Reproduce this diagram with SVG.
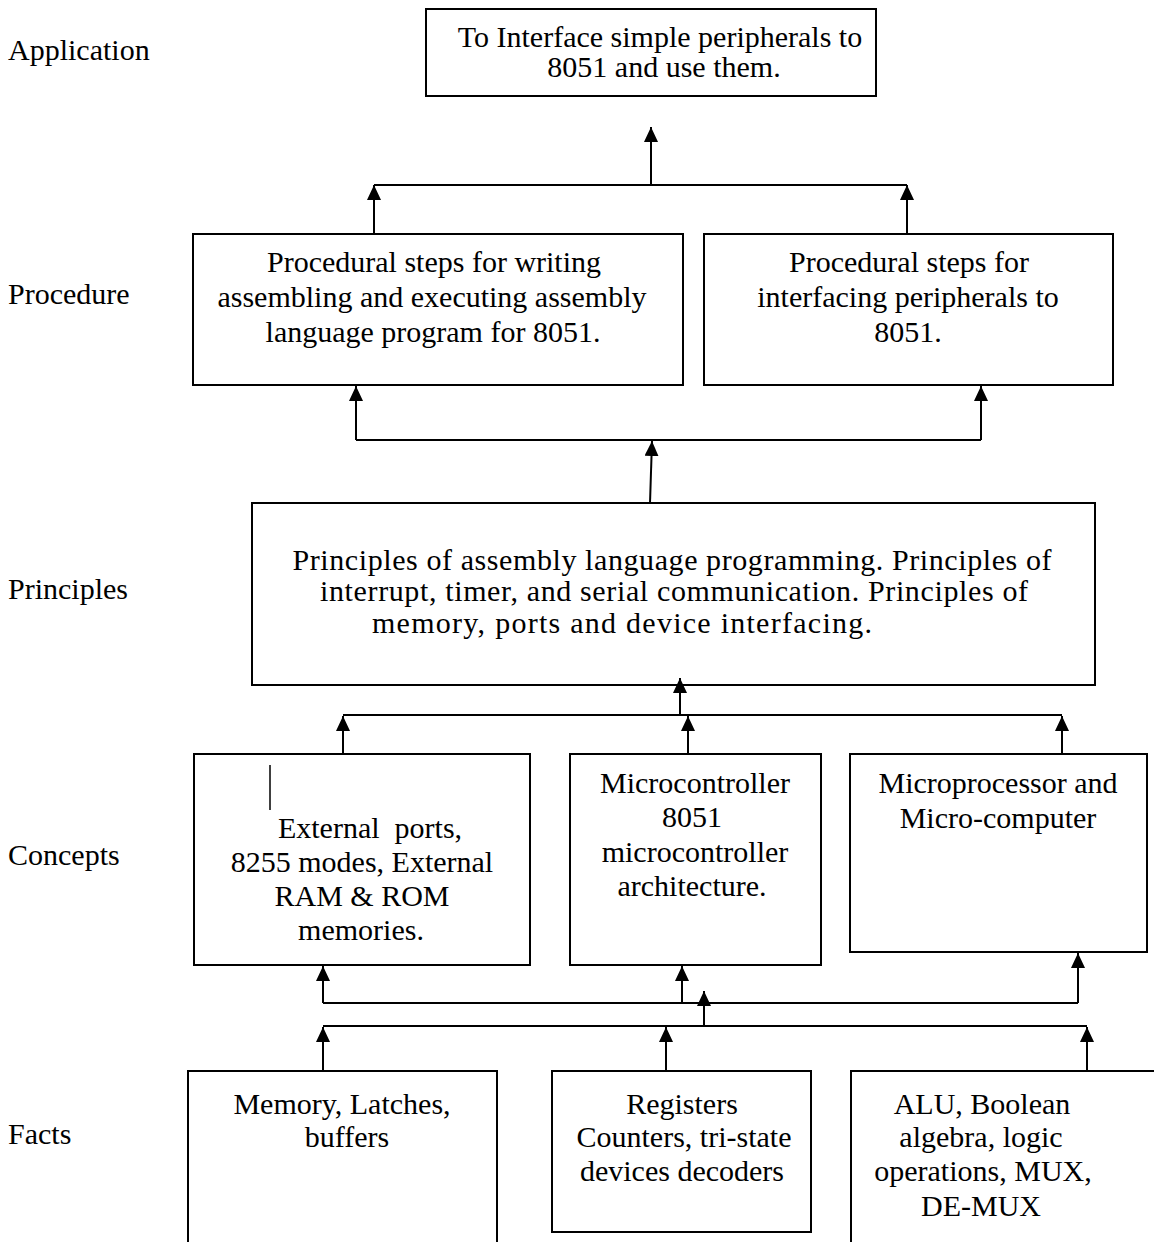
<svg xmlns="http://www.w3.org/2000/svg" width="1154" height="1242" viewBox="0 0 1154 1242">
<style>
.box{fill:#fff;stroke:#000;stroke-width:2}
.t{font-family:"Liberation Serif","Times New Roman",serif;font-size:30px;fill:#000;text-anchor:middle}
.lbl{font-family:"Liberation Serif","Times New Roman",serif;font-size:30px;fill:#000}
.c{fill:none;stroke:#000;stroke-width:2}
</style>
<defs>
<marker id="ah" markerUnits="userSpaceOnUse" markerWidth="16" markerHeight="14" refX="15" refY="7" orient="auto">
<path d="M0,0 L15,7 L0,14 z" fill="#000"/>
</marker>
</defs>
<rect width="1154" height="1242" fill="#fff"/>
<g id="labels">
<text class="lbl" x="8" y="60">Application</text>
<text class="lbl" x="8" y="304">Procedure</text>
<text class="lbl" x="8" y="599">Principles</text>
<text class="lbl" x="8" y="865">Concepts</text>
<text class="lbl" x="8" y="1144">Facts</text>
</g>
<g id="n-app">
<rect class="box" x="426" y="9" width="450" height="87"/>
<text class="t" x="660" y="47">To Interface simple peripherals to</text>
<text class="t" x="664" y="77">8051 and use them.</text>
</g>
<g id="n-proc1">
<rect class="box" x="193" y="234" width="490" height="151"/>
<text class="t" x="434" y="272">Procedural steps for writing</text>
<text class="t" x="432" y="307">assembling and executing assembly</text>
<text class="t" x="433" y="342">language program for 8051.</text>
</g>
<g id="n-proc2">
<rect class="box" x="704" y="234" width="409" height="151"/>
<text class="t" x="909" y="272">Procedural steps for</text>
<text class="t" x="908" y="307">interfacing peripherals to</text>
<text class="t" x="908" y="342">8051.</text>
</g>
<g id="n-principles">
<rect class="box" x="252" y="503" width="843" height="182"/>
<text class="t" x="672" y="570" textLength="759" lengthAdjust="spacing">Principles of assembly language programming. Principles of</text>
<text class="t" x="674" y="601" textLength="708" lengthAdjust="spacing">interrupt, timer, and serial communication. Principles of</text>
<text class="t" x="622" y="633" textLength="500" lengthAdjust="spacing">memory, ports and device interfacing.</text>
</g>
<g id="n-concept1">
<rect class="box" x="194" y="754" width="336" height="211"/>
<line x1="270" y1="765" x2="270" y2="810" stroke="#000" stroke-width="1.5"/>
<text class="t" x="370" y="838" xml:space="preserve">External  ports,</text>
<text class="t" x="362" y="872">8255 modes, External</text>
<text class="t" x="362" y="906">RAM &amp; ROM</text>
<text class="t" x="361" y="940">memories.</text>
</g>
<g id="n-concept2">
<rect class="box" x="570" y="754" width="251" height="211"/>
<text class="t" x="695" y="793">Microcontroller</text>
<text class="t" x="692" y="827">8051</text>
<text class="t" x="695" y="862">microcontroller</text>
<text class="t" x="692" y="896">architecture.</text>
</g>
<g id="n-concept3">
<rect class="box" x="850" y="754" width="297" height="198"/>
<text class="t" x="998" y="793">Microprocessor and</text>
<text class="t" x="998" y="828">Micro-computer</text>
</g>
<g id="n-fact1">
<rect class="box" x="188" y="1071" width="309" height="200"/>
<text class="t" x="342" y="1114">Memory, Latches,</text>
<text class="t" x="347" y="1147">buffers</text>
</g>
<g id="n-fact2">
<rect class="box" x="552" y="1071" width="259" height="161"/>
<text class="t" x="682" y="1114">Registers</text>
<text class="t" x="684" y="1147">Counters, tri-state</text>
<text class="t" x="682" y="1181">devices decoders</text>
</g>
<g id="n-fact3">
<rect class="box" x="851" y="1071" width="320" height="200"/>
<text class="t" x="982" y="1114">ALU, Boolean</text>
<text class="t" x="981" y="1147">algebra, logic</text>
<text class="t" x="983" y="1181">operations, MUX,</text>
<text class="t" x="981" y="1216">DE-MUX</text>
</g>
<g id="connectors">
<line class="c" x1="651" y1="185" x2="651" y2="127" marker-end="url(#ah)"/>
<line class="c" x1="374" y1="185" x2="907" y2="185"/>
<line class="c" x1="374" y1="234" x2="374" y2="185" marker-end="url(#ah)"/>
<line class="c" x1="907" y1="234" x2="907" y2="185" marker-end="url(#ah)"/>
<line class="c" x1="356" y1="440" x2="981" y2="440"/>
<line class="c" x1="356" y1="440" x2="356" y2="386" marker-end="url(#ah)"/>
<line class="c" x1="981" y1="440" x2="981" y2="386" marker-end="url(#ah)"/>
<line class="c" x1="650" y1="503" x2="652" y2="441" marker-end="url(#ah)"/>
<line class="c" x1="680" y1="715" x2="680" y2="678" marker-end="url(#ah)"/>
<line class="c" x1="343" y1="715" x2="1062" y2="715"/>
<line class="c" x1="343" y1="754" x2="343" y2="716" marker-end="url(#ah)"/>
<line class="c" x1="688" y1="754" x2="688" y2="716" marker-end="url(#ah)"/>
<line class="c" x1="1062" y1="754" x2="1062" y2="716" marker-end="url(#ah)"/>
<line class="c" x1="323" y1="1003" x2="1078" y2="1003"/>
<line class="c" x1="323" y1="1003" x2="323" y2="966" marker-end="url(#ah)"/>
<line class="c" x1="682" y1="1003" x2="682" y2="966" marker-end="url(#ah)"/>
<line class="c" x1="1078" y1="1003" x2="1078" y2="953" marker-end="url(#ah)"/>
<line class="c" x1="704" y1="1026" x2="704" y2="991" marker-end="url(#ah)"/>
<line class="c" x1="323" y1="1026" x2="1087" y2="1026"/>
<line class="c" x1="323" y1="1070" x2="323" y2="1027" marker-end="url(#ah)"/>
<line class="c" x1="666" y1="1070" x2="666" y2="1027" marker-end="url(#ah)"/>
<line class="c" x1="1087" y1="1070" x2="1087" y2="1027" marker-end="url(#ah)"/>
</g>
</svg>
